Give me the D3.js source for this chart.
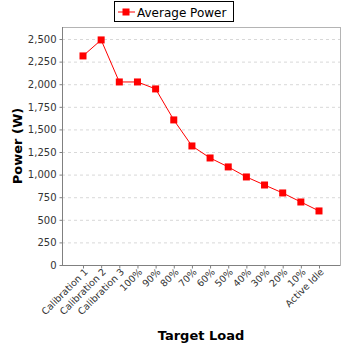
<!DOCTYPE html>
<html><head><meta charset="utf-8">
<script src="https://cdn.jsdelivr.net/npm/d3@7"></script>
<style>body{margin:0;background:#fff}svg{display:block}</style>
</head><body>
<script>
const categories = ["Calibration 1","Calibration 2","Calibration 3","100%","90%","80%","70%","60%","50%","40%","30%","20%","10%","Active Idle"];
const avgPower = [2313,2490,2025,2025,1948,1605,1317,1184,1085,974,885,797,697,598];
const yTicks = [0,250,500,750,1000,1250,1500,1750,2000,2250,2500];
const seriesName = "Average Power";

const W=348,H=348;
const L=62,R=340,T=27,B=265;
const svg=d3.select("body").append("svg").attr("width",W).attr("height",H);
svg.append("rect").attr("width",W).attr("height",H).attr("fill","#fff");

const x=d3.scalePoint().domain(categories).range([L+21,R-21]);
const y=d3.scaleLinear().domain([0,2633]).range([B,T]);

// grid
svg.append("g").selectAll("line").data(yTicks.slice(1)).join("line")
 .attr("x1",L).attr("x2",R).attr("y1",d=>y(d)+0.5).attr("y2",d=>y(d)+0.5)
 .attr("stroke","#d8d8d8").attr("stroke-dasharray","3,3").attr("stroke-width",1);
// plot border
svg.append("rect").attr("x",L+0.5).attr("y",T+0.5).attr("width",R-L).attr("height",B-T)
 .attr("fill","none").attr("stroke","#b4b4b4");

const fmt=d3.format(",");
const ya=svg.append("g").attr("transform",`translate(${L+0.5},0)`)
 .call(d3.axisLeft(y).tickValues(yTicks).tickFormat(fmt).tickSize(3).tickPadding(3));
ya.select(".domain").attr("stroke","#808080").attr("d",`M0,${T}V${B+0.5}`);
ya.selectAll(".tick line").attr("stroke","#808080");
ya.selectAll("text").attr("font-family","DejaVu Sans, sans-serif").attr("font-size",10).attr("fill","#333");

const xa=svg.append("g").attr("transform",`translate(0,${B+0.5})`)
 .call(d3.axisBottom(x).tickSize(3).tickSizeOuter(0));
xa.select(".domain").attr("stroke","#808080").attr("d",`M${L},0H${R}`);
xa.selectAll(".tick line").attr("stroke","#808080");
xa.selectAll("text").attr("font-family","DejaVu Sans, sans-serif").attr("font-size",9.5).attr("fill","#333")
 .attr("text-anchor","end").attr("dy",null).attr("y",0)
 .attr("transform","translate(5,7) rotate(-45)");

// line
svg.append("path").datum(avgPower)
 .attr("d",d3.line().x((d,i)=>x(categories[i])).y(d=>y(d)))
 .attr("fill","none").attr("stroke","#ff0000").attr("stroke-width",1);
svg.append("g").selectAll("rect").data(avgPower).join("rect")
 .attr("x",(d,i)=>x(categories[i])-3.5).attr("y",d=>y(d)-3.5)
 .attr("width",7).attr("height",7).attr("fill","#ff0000");

// axis titles
svg.append("text").attr("x",(L+R)/2).attr("y",340).attr("text-anchor","middle")
 .attr("font-family","DejaVu Sans, sans-serif").attr("font-weight","bold").attr("font-size",13).text("Target Load");
svg.append("text").attr("transform",`translate(22,${(T+B)/2}) rotate(-90)`).attr("text-anchor","middle")
 .attr("font-family","DejaVu Sans, sans-serif").attr("font-weight","bold").attr("font-size",13).text("Power (W)");

// legend
const lg=svg.append("g");
lg.append("rect").attr("x",114.5).attr("y",1.5).attr("width",119).attr("height",20).attr("fill","#fff").attr("stroke","#000");
lg.append("line").attr("x1",118).attr("x2",135).attr("y1",12).attr("y2",12).attr("stroke","#ff0000");
lg.append("rect").attr("x",122.5).attr("y",8.5).attr("width",7).attr("height",7).attr("fill","#ff0000");
lg.append("text").attr("x",137).attr("y",16.5).attr("font-family","DejaVu Sans, sans-serif").attr("font-size",12).attr("fill","#000").text(seriesName);
</script>
</body></html>
